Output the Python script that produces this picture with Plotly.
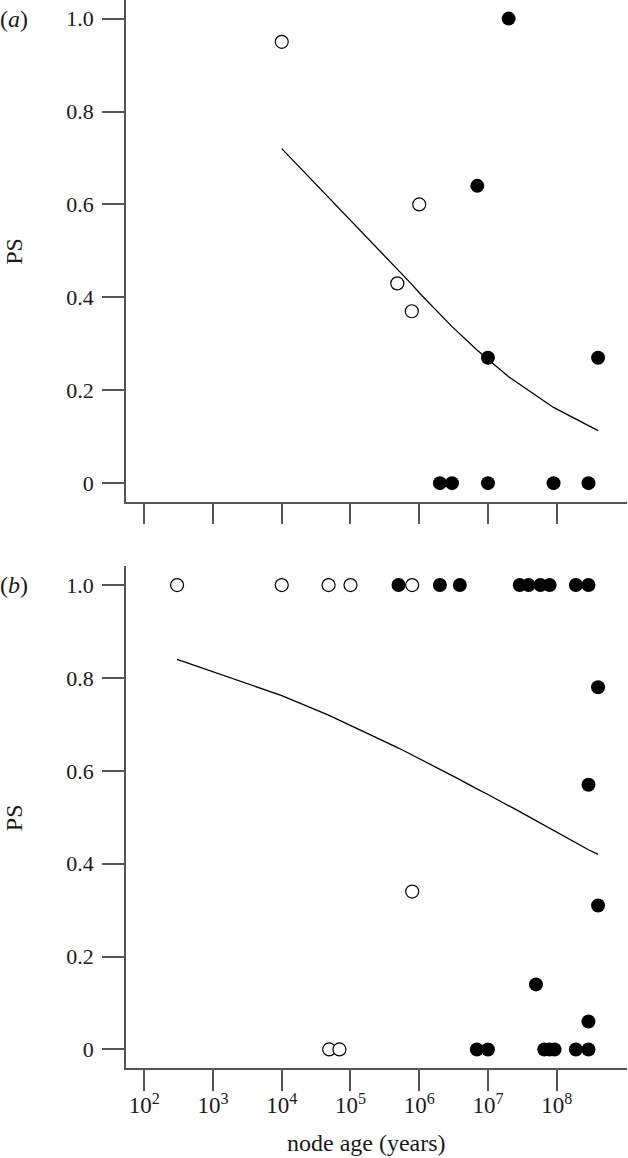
import plotly.graph_objects as go

# ---- panel (a) data ----
a_open_age = [1e4, 4.8e5, 7.8e5, 1e6]
a_open_ps = [0.95, 0.43, 0.37, 0.60]
a_fill_age = [2e7, 7e6, 1e7, 4e8, 2e6, 3e6, 1e7, 9e7, 2.9e8]
a_fill_ps = [1.0, 0.64, 0.27, 0.27, 0, 0, 0, 0, 0]
a_line_age = [1e4, 4.8e5, 7.8e5, 1e6, 2e6, 3e6, 7e6, 1e7, 2e7, 9e7, 2.9e8, 4e8]
a_line_ps = [0.720, 0.462, 0.428, 0.410, 0.364, 0.337, 0.286, 0.266, 0.229, 0.163, 0.123, 0.113]

# ---- panel (b) data ----
b_open_age = [300, 1e4, 4.8e4, 1e5, 7.9e5, 7.9e5, 4.9e4, 6.9e4]
b_open_ps = [1, 1, 1, 1, 1, 0.34, 0, 0]
b_fill_age = [5e5, 2e6, 3.9e6, 2.9e7, 3.9e7, 5.8e7, 7.9e7, 1.9e8, 2.9e8,
              4e8, 2.9e8, 4e8, 5e7, 2.9e8,
              6.9e6, 1e7, 6.6e7, 7.9e7, 9.3e7, 1.9e8, 2.9e8]
b_fill_ps = [1, 1, 1, 1, 1, 1, 1, 1, 1,
             0.78, 0.57, 0.31, 0.14, 0.06,
             0, 0, 0, 0, 0, 0, 0]
b_line_age = [300, 1e4, 4.8e4, 6.9e4, 1e5, 5e5, 7.9e5, 2e6, 3.9e6, 6.9e6, 1e7,
              2.9e7, 5.8e7, 7.9e7, 1.9e8, 2.9e8, 4e8]
b_line_ps = [0.840, 0.762, 0.720, 0.709, 0.699, 0.649, 0.634, 0.604, 0.581, 0.561, 0.549,
             0.512, 0.487, 0.476, 0.446, 0.430, 0.420]

tick_vals = [1e2, 1e3, 1e4, 1e5, 1e6, 1e7, 1e8]
tick_text = ['10<sup>2</sup>', '10<sup>3</sup>', '10<sup>4</sup>', '10<sup>5</sup>',
             '10<sup>6</sup>', '10<sup>7</sup>', '10<sup>8</sup>']
ps_vals = [0, 0.2, 0.4, 0.6, 0.8, 1.0]
ps_text = ['0', '0.2', '0.4', '0.6', '0.8', '1.0']

FONT = 'Liberation Serif, Times New Roman, serif'
AX = '#555555'
TXT = '#1a1a1a'

fig = go.Figure()


def add_panel(fig, xa, ya, line_x, line_y, fill_x, fill_y, open_x, open_y):
    fig.add_trace(go.Scatter(x=line_x, y=line_y, mode='lines', xaxis=xa, yaxis=ya,
                             line=dict(color='black', width=1.3), showlegend=False))
    fig.add_trace(go.Scatter(x=fill_x, y=fill_y, mode='markers', xaxis=xa, yaxis=ya,
                             cliponaxis=False,
                             marker=dict(color='black', size=14, line=dict(width=0)),
                             showlegend=False))
    fig.add_trace(go.Scatter(x=open_x, y=open_y, mode='markers', xaxis=xa, yaxis=ya,
                             cliponaxis=False,
                             marker=dict(color='white', size=13, line=dict(color='black', width=1.2)),
                             showlegend=False))


add_panel(fig, 'x', 'y', a_line_age, a_line_ps, a_fill_age, a_fill_ps, a_open_age, a_open_ps)
add_panel(fig, 'x2', 'y2', b_line_age, b_line_ps, b_fill_age, b_fill_ps, b_open_age, b_open_ps)

xcommon = dict(type='log', range=[1.734, 9.023], tickvals=tick_vals, ticktext=tick_text,
               showline=True, linecolor=AX, linewidth=1.5, ticks='outside', ticklen=21,
               tickwidth=1.5, tickcolor=AX, showgrid=False, zeroline=False,
               tickfont=dict(family=FONT, size=23, color=TXT))
ycommon = dict(range=[-0.04, 1.04], tickvals=ps_vals, ticktext=ps_text,
               showline=True, linecolor=AX, linewidth=1.5, ticks='outside', ticklen=22,
               tickwidth=1.5, tickcolor=AX, showgrid=False, zeroline=False,
               ticklabelstandoff=4,
               tickfont=dict(family=FONT, size=22, color=TXT))

fig.update_layout(
    width=628, height=1158,
    margin=dict(l=126, r=1, t=0, b=90),
    paper_bgcolor='white', plot_bgcolor='white',
    xaxis=dict(xcommon, domain=[0, 1], anchor='y', showticklabels=False),
    yaxis=dict(ycommon, domain=[0.5302, 1], anchor='x'),
    xaxis2=dict(xcommon, domain=[0, 1], anchor='y2', ticklabelstandoff=-5),
    yaxis2=dict(ycommon, domain=[0, 0.4696], anchor='x2'),
)

# подписи: PS, (a), (b), node age
ann_font = dict(family=FONT, size=24, color=TXT)
for yc in [0.7651, 0.2348]:
    fig.add_annotation(text='PS', xref='paper', yref='paper', x=-0.2236, y=yc,
                       textangle=-90, showarrow=False, font=ann_font,
                       xanchor='center', yanchor='middle')
fig.add_annotation(text='(<i>a</i>)', xref='paper', yref='paper', x=-0.2236, y=(1068 - 19) / 1068,
                   showarrow=False, font=ann_font, xanchor='center', yanchor='middle')
fig.add_annotation(text='(<i>b</i>)', xref='paper', yref='paper', x=-0.2236, y=(1068 - 585) / 1068,
                   showarrow=False, font=ann_font, xanchor='center', yanchor='middle')
fig.add_annotation(text='node age (years)', xref='paper', yref='paper',
                   x=(366 - 126) / 501, y=(1068 - 1143) / 1068,
                   showarrow=False, font=ann_font, xanchor='center', yanchor='middle')

# убрать отступ body, чтобы фигура стояла в углу окна
fig.write_html('out.html', config={'displayModeBar': False},
               post_script="document.body.style.margin='0';")
